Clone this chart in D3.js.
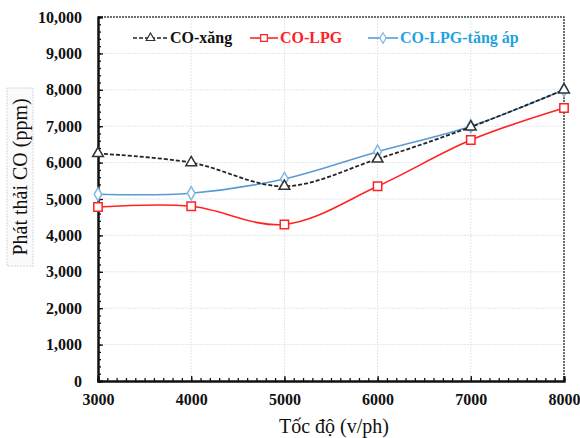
<!DOCTYPE html>
<html>
<head>
<meta charset="utf-8">
<script src="https://cdn.jsdelivr.net/npm/d3@7"></script>
<style>
  body { margin: 0; background: #fff; }
</style>
</head>
<body>
<svg id="chart" width="580" height="438" font-family="Liberation Serif, Times New Roman, serif"></svg>
<script>
var speeds = [3000, 4000, 5000, 6000, 7000, 8000];
var coXang = [6250, 6000, 5350, 6100, 6980, 8000];
var coLpg = [4780, 4800, 4300, 5350, 6620, 7500];
var coLpgTangAp = [5130, 5160, 5550, 6300, 7000, 8000];
var yTicks = [0, 1000, 2000, 3000, 4000, 5000, 6000, 7000, 8000, 9000, 10000];
var xTicks = [3000, 4000, 5000, 6000, 7000, 8000];

var svg = d3.select('#chart');
var plotL = 98, plotR = 564, plotT = 17, plotB = 381;
var serif = 'Liberation Serif';

var x = d3.scaleLinear().domain([3000, 8000]).range([plotL, plotR]);
var y = d3.scaleLinear().domain([0, 10000]).range([plotB, plotT]);

// grid
var grid = svg.append('g');
grid.selectAll('line.gy').data(yTicks.slice(1)).enter().append('line')
	.attr('x1', plotL).attr('x2', plotR)
	.attr('y1', function (d) { return y(d); }).attr('y2', function (d) { return y(d); })
	.attr('stroke', '#dfe6ee').attr('stroke-width', 1).attr('stroke-dasharray', '2,1');
grid.selectAll('line.gx').data(xTicks.slice(1)).enter().append('line')
	.attr('y1', plotT).attr('y2', plotB)
	.attr('x1', function (d) { return x(d); }).attr('x2', function (d) { return x(d); })
	.attr('stroke', '#dfe6ee').attr('stroke-width', 1).attr('stroke-dasharray', '2,1');

// frame top and right
svg.append('path')
	.attr('d', 'M' + plotL + ',' + plotT + 'H' + plotR + 'V' + plotB)
	.attr('fill', 'none').attr('stroke', '#444').attr('stroke-width', 1.5).attr('stroke-dasharray', '2,1');

// axes, ticks inward
var yAxis = d3.axisLeft(y).tickValues(yTicks).tickSize(-5).tickPadding(16)
	.tickFormat(d3.format(','));
var gy = svg.append('g').attr('transform', 'translate(' + plotL + ',0)').call(yAxis);
var gyMinor = svg.append('g').attr('transform', 'translate(' + plotL + ',0)')
	.call(d3.axisLeft(y).tickValues(d3.range(0, 10001, 200)).tickSize(-3).tickFormat(''));

var xAxis = d3.axisBottom(x).tickValues(xTicks).tickSize(-5).tickPadding(12)
	.tickFormat(d3.format('d'));
var gx = svg.append('g').attr('transform', 'translate(0,' + plotB + ')').call(xAxis);
var gxMinor = svg.append('g').attr('transform', 'translate(0,' + plotB + ')')
	.call(d3.axisBottom(x).tickValues(d3.range(3000, 8001, 100)).tickSize(-3).tickFormat(''));

[gy, gx, gyMinor, gxMinor].forEach(function (g)
{
	g.attr('font-family', serif);
	g.select('.domain').attr('stroke', '#111').attr('stroke-width', 2);
	g.selectAll('.tick line').attr('stroke', '#111').attr('stroke-width', 1.3);
	g.selectAll('.tick text').attr('font-family', serif)
		.attr('font-weight', 'bold').attr('font-size', 16).attr('fill', '#111');
});
gx.selectAll('.tick text').attr('dy', '0.75em');

// series
var series = [
	{name: 'CO-xăng', values: coXang, color: '#222', dash: '4,2', marker: 'triangle', text: '#111', fill: '#fff', mstroke: '#333'},
	{name: 'CO-LPG', values: coLpg, color: '#ff2222', dash: null, marker: 'square', text: '#ff2020', fill: '#fff', mstroke: '#ff2222'},
	{name: 'CO-LPG-tăng áp', values: coLpgTangAp, color: '#5b9bd5', dash: null, marker: 'diamond', text: '#1fa3e0', fill: '#fff', mstroke: '#7fb8e6'}
];

var symbols = {
	triangle: d3.symbol().type(d3.symbolTriangle).size(50),
	square: d3.symbol().type(d3.symbolSquare).size(70),
	diamond: d3.symbol().type(d3.symbolDiamond).size(50)
};

var line = d3.line()
	.x(function (d, i) { return x(speeds[i]); })
	.y(function (d) { return y(d); })
	.curve(d3.curveCatmullRom.alpha(0.5));

// order: blue, red, black dashed on top
[series[2], series[1], series[0]].forEach(function (s)
{
	svg.append('path').datum(s.values).attr('d', line)
		.attr('fill', 'none').attr('stroke', s.color).attr('stroke-width', s.marker === 'triangle' ? 1.8 : 1.6)
		.attr('stroke-dasharray', s.dash);
	svg.selectAll(null).data(s.values).enter().append('path')
		.attr('d', symbols[s.marker])
		.attr('transform', function (d, i) { return 'translate(' + x(speeds[i]) + ',' + y(d) + ')'; })
		.attr('fill', s.fill).attr('stroke', s.mstroke).attr('stroke-width', 1.5);
});

// legend
var legendPos = [{x: 133, w: 35}, {x: 250, w: 28}, {x: 368, w: 30}];
series.forEach(function (s, i)
{
	var lg = svg.append('g').attr('transform', 'translate(' + legendPos[i].x + ',38)');
	lg.append('line').attr('x1', 0).attr('x2', legendPos[i].w).attr('y1', 0).attr('y2', 0)
		.attr('stroke', s.color).attr('stroke-width', 1.6).attr('stroke-dasharray', s.dash);
	lg.append('path').attr('d', symbols[s.marker])
		.attr('transform', 'translate(' + (legendPos[i].w / 2) + ',0) scale(0.8)')
		.attr('fill', s.fill).attr('stroke', s.mstroke).attr('stroke-width', 1.5);
	lg.append('text').attr('x', legendPos[i].w + 2).attr('y', 5).attr('font-family', serif)
		.attr('font-weight', 'bold').attr('font-size', 16).attr('fill', s.text)
		.text(s.name);
});

// axis titles
var yt = svg.append('g').attr('transform', 'translate(20,177) rotate(-90)');
yt.append('rect').attr('x', -89).attr('y', -13).attr('width', 178).attr('height', 26)
	.attr('fill', '#fbfbfb').attr('stroke', '#d4d4d4').attr('stroke-dasharray', '2,1');
yt.append('text').attr('text-anchor', 'middle').attr('y', 7).attr('font-family', serif)
	.attr('font-size', 20).attr('fill', '#111').text('Phát thải CO (ppm)');

svg.append('text').attr('x', 334).attr('y', 433).attr('text-anchor', 'middle').attr('font-family', serif)
	.attr('font-size', 20).attr('fill', '#111').text('Tốc độ (v/ph)');
</script>
</body>
</html>
